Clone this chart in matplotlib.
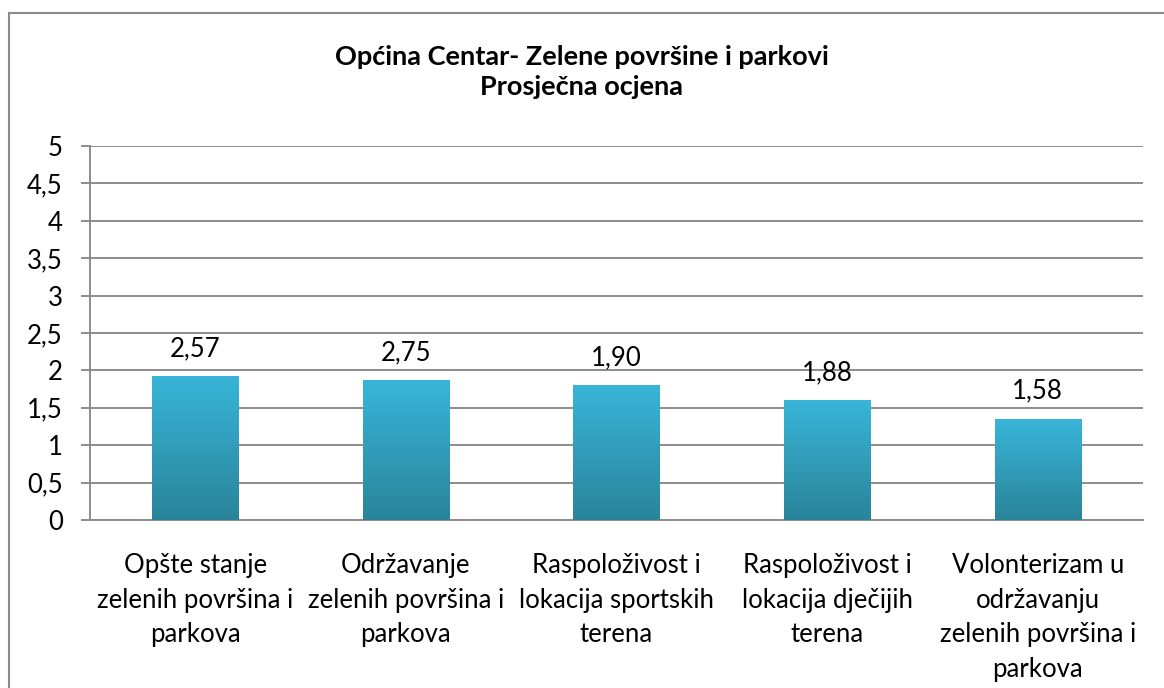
import matplotlib.pyplot as plt
import numpy as np
from matplotlib.patches import Rectangle
from matplotlib.colors import LinearSegmentedColormap

# Data
categories = [
    'Opšte stanje\nzelenih površina i\nparkova',
    'Održavanje\nzelenih površina i\nparkova',
    'Raspoloživost i\nlokacija sportskih\nterena',
    'Raspoloživost i\nlokacija dječijih\nterena',
    'Volonterizam u\nodržavanju\nzelenih površina i\nparkova',
]
bar_heights = [1.92, 1.87, 1.80, 1.60, 1.35]
value_labels = ['2,57', '2,75', '1,90', '1,88', '1,58']
y_ticks = [0, 0.5, 1, 1.5, 2, 2.5, 3, 3.5, 4, 4.5, 5]
y_tick_labels = ['0', '0,5', '1', '1,5', '2', '2,5', '3', '3,5', '4', '4,5', '5']

plt.rcParams['font.family'] = ['Lato', 'DejaVu Sans']

fig = plt.figure(figsize=(11.64, 6.88), dpi=100)
ax = fig.add_axes([90 / 1164, 1 - 520 / 688, (1143 - 90) / 1164, (520 - 146) / 688])

grid_col = '#8c8c8c'
fs = 18.5
x = np.arange(len(categories))
bars = ax.bar(x, bar_heights, width=0.41, color='none', zorder=3)

# gradient fill clipped to each bar
cmap = LinearSegmentedColormap.from_list('bar', ['#2a8499', '#38b5d9'])
grad = np.linspace(0, 1, 256).reshape(-1, 1)
for b in bars:
    x0, w, h = b.get_x(), b.get_width(), b.get_height()
    im = ax.imshow(grad, cmap=cmap, aspect='auto', origin='lower',
                   extent=[x0, x0 + w, 0, h], zorder=3)
    im.set_clip_path(b)

for xi, h, lab in zip(x, bar_heights, value_labels):
    ax.annotate(lab, (xi, h), xytext=(0, 11), textcoords='offset points',
                ha='center', va='bottom', fontsize=fs)

ax.set_xlim(-0.5, len(categories) - 0.5)
ax.set_ylim(0, 5)
ax.set_yticks(y_ticks)
ax.set_yticklabels(y_tick_labels, fontsize=fs)
ax.set_xticks(x)
ax.set_xticklabels(categories, fontsize=fs, linespacing=1.47, va='top')
ax.tick_params(axis='x', length=0, pad=24)
ax.tick_params(axis='y', length=6.5, color=grid_col, width=1.4, pad=13)

ax.grid(True, axis='y', color=grid_col, linewidth=1.4, zorder=0)
ax.set_axisbelow(True)
for s in ['top', 'right']:
    ax.spines[s].set_visible(False)
for s in ['left', 'bottom']:
    ax.spines[s].set_color(grid_col)
    ax.spines[s].set_linewidth(1.4)

fig.text(0.5, 1 - 72 / 688, 'Općina Centar- Zelene površine i parkovi\nProsječna ocjena',
         ha='center', va='center', fontsize=19.5, fontweight='bold', linespacing=1.27)

# chart border
fig.patches.append(Rectangle((9 / 1164, -0.05), 1.1, 1.05 - 12.5 / 688,
                             transform=fig.transFigure, fill=False,
                             edgecolor='#8a8a8a', linewidth=1.5))

plt.savefig('out.png', dpi=100)
